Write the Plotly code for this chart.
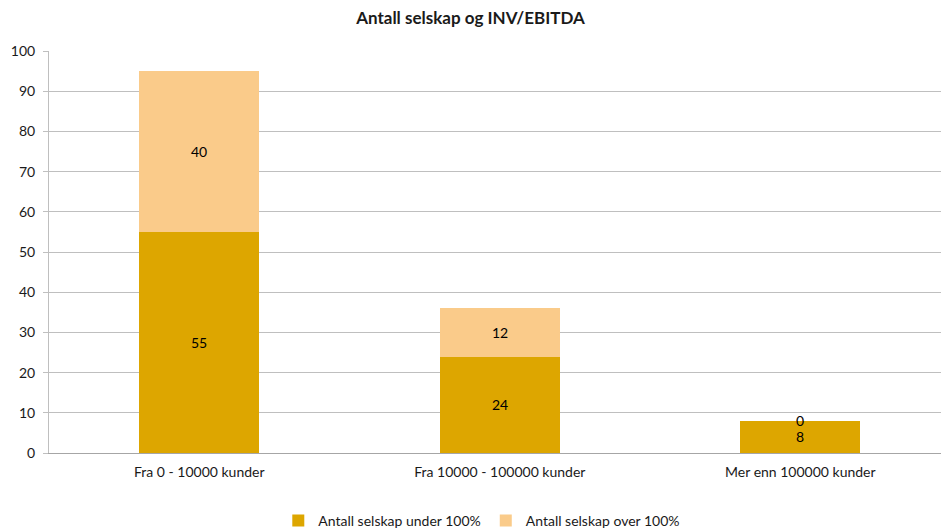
import plotly.graph_objects as go

categories = ["Fra 0 - 10000 kunder", "Fra 10000 - 100000 kunder", "Mer enn 100000 kunder"]
under_100 = [55, 24, 8]
over_100 = [40, 12, 0]
series_names = ["Antall selskap under 100%", "Antall selskap over 100%"]
colors = ["#DDA600", "#FACB8A"]
y_ticks = list(range(0, 101, 10))

FONT = "Lato, Carlito, Calibri, sans-serif"

fig = go.Figure()
series = [under_100, over_100]
for name, vals, col in zip(series_names, series, colors):
    fig.add_trace(go.Bar(
        x=categories, y=vals, name=name, marker=dict(color=col, line=dict(width=0)),
        width=0.4,
    ))

annotations = []
for i, cat in enumerate(categories):
    base = 0
    for vals in series:
        v = vals[i]
        annotations.append(dict(x=cat, y=base + v / 2, text=str(v), showarrow=False,
                                xref="x", yref="y", font=dict(size=14, color="#000000", family=FONT)))
        base += v

fig.update_layout(
    width=941, height=529,
    barmode="stack",
    paper_bgcolor="white", plot_bgcolor="white",
    margin=dict(l=49, r=0, t=51, b=76),
    title=dict(text="<b>Antall selskap og INV/EBITDA</b>", x=0.5, xref="container", xanchor="center",
               y=0.966, yanchor="middle",
               font=dict(size=17, color="#1a1a1a", family=FONT)),
    font=dict(family=FONT, size=14, color="#1a1a1a"),
    annotations=annotations,
    legend=dict(orientation="h", x=0.512, xanchor="center", xref="container",
                y=(529 - 521) / 529, yanchor="middle", yref="container",
                font=dict(size=14, family=FONT), traceorder="normal"),
    bargap=0,
)
fig.update_xaxes(range=[-0.5, 2.468], showline=True, linecolor="#A6A6A6", linewidth=1,
                 ticks="", showgrid=False, tickfont=dict(size=14, family=FONT), ticklabelstandoff=6)
fig.update_yaxes(range=[0, 100], tickvals=y_ticks, showgrid=True, gridcolor="#BFBFBF", gridwidth=1,
                 showline=True, linecolor="#BFBFBF", linewidth=1, ticks="outside", ticklen=5,
                 tickcolor="#BFBFBF", zeroline=False, tickfont=dict(size=14, family=FONT),
                 ticklabelstandoff=5)

fig.write_html("out.html")
